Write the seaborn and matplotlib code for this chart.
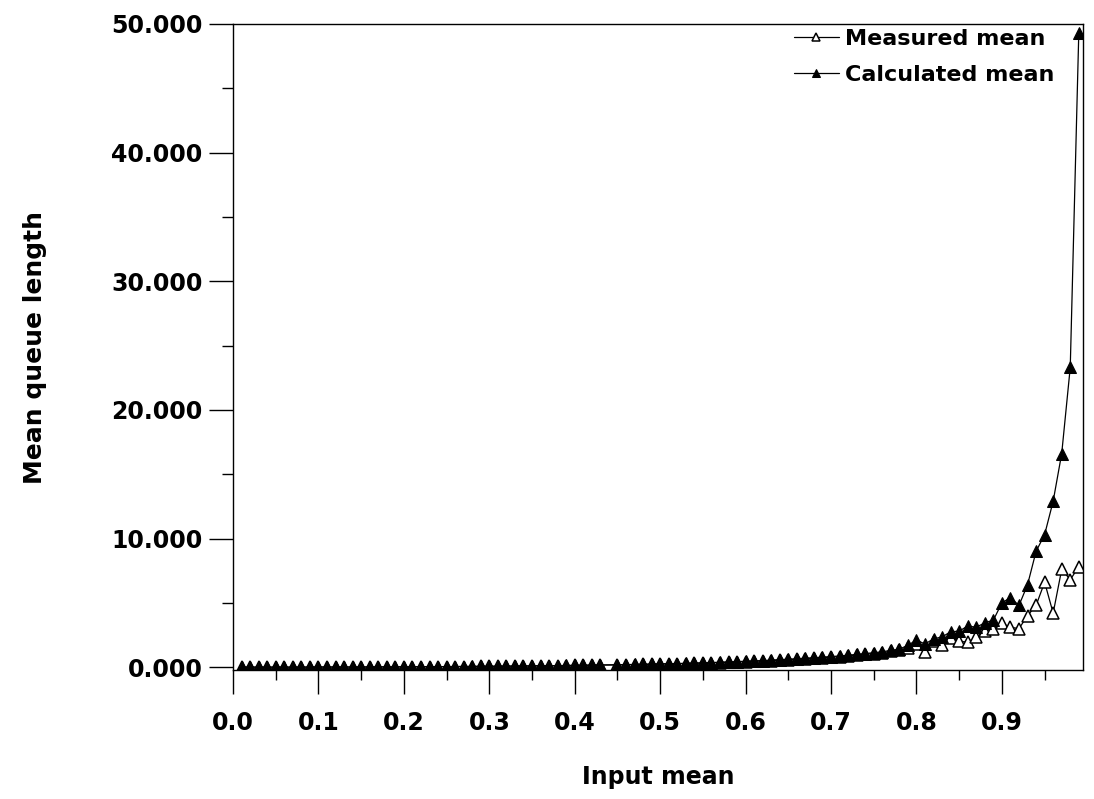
import numpy as np
import pandas as pd
import matplotlib
matplotlib.use('Agg')
import matplotlib.pyplot as plt
import seaborn as sns
from matplotlib.ticker import MultipleLocator, FormatStrFormatter

# input mean, steps of 0.01 (no point at 0.44)
input_mean = [0.01, 0.02, 0.03, 0.04, 0.05, 0.06, 0.07, 0.08, 0.09, 0.10,
              0.11, 0.12, 0.13, 0.14, 0.15, 0.16, 0.17, 0.18, 0.19, 0.20,
              0.21, 0.22, 0.23, 0.24, 0.25, 0.26, 0.27, 0.28, 0.29, 0.30,
              0.31, 0.32, 0.33, 0.34, 0.35, 0.36, 0.37, 0.38, 0.39, 0.40,
              0.41, 0.42, 0.43, 0.45, 0.46, 0.47, 0.48, 0.49, 0.50,
              0.51, 0.52, 0.53, 0.54, 0.55, 0.56, 0.57, 0.58, 0.59, 0.60,
              0.61, 0.62, 0.63, 0.64, 0.65, 0.66, 0.67, 0.68, 0.69, 0.70,
              0.71, 0.72, 0.73, 0.74, 0.75, 0.76, 0.77, 0.78, 0.79, 0.80,
              0.81, 0.82, 0.83, 0.84, 0.85, 0.86, 0.87, 0.88, 0.89, 0.90,
              0.91, 0.92, 0.93, 0.94, 0.95, 0.96, 0.97, 0.98, 0.99]

calculated = [0.00, 0.00, 0.00, 0.00, 0.00, 0.00, 0.00, 0.00, 0.01, 0.01,
              0.01, 0.01, 0.01, 0.01, 0.01, 0.02, 0.02, 0.02, 0.02, 0.03,
              0.03, 0.03, 0.03, 0.04, 0.04, 0.05, 0.05, 0.06, 0.06, 0.07,
              0.07, 0.08, 0.09, 0.09, 0.10, 0.11, 0.11, 0.12, 0.13, 0.14,
              0.15, 0.16, 0.17, 0.19, 0.20, 0.21, 0.23, 0.24, 0.26,
              0.27, 0.28, 0.30, 0.32, 0.34, 0.36, 0.38, 0.41, 0.43, 0.46,
              0.49, 0.51, 0.55, 0.58, 0.62, 0.65, 0.70, 0.73, 0.78, 0.82,
              0.87, 0.93, 0.99, 1.06, 1.12, 1.20, 1.30, 1.40, 1.70, 2.10,
              1.80, 2.20, 2.35, 2.75, 2.80, 3.20, 3.10, 3.45, 3.65, 5.00,
              5.40, 4.80, 6.40, 9.00, 10.30, 12.90, 16.60, 23.30, 49.30]

measured = [0.00, 0.00, 0.00, 0.00, 0.00, 0.00, 0.00, 0.00, 0.00, 0.01,
            0.01, 0.01, 0.01, 0.01, 0.01, 0.01, 0.02, 0.02, 0.02, 0.02,
            0.03, 0.03, 0.03, 0.04, 0.04, 0.04, 0.05, 0.05, 0.06, 0.06,
            0.07, 0.07, 0.08, 0.09, 0.09, 0.10, 0.10, 0.11, 0.12, 0.13,
            0.14, 0.15, 0.16, 0.17, 0.18, 0.20, 0.21, 0.22, 0.24,
            0.25, 0.27, 0.28, 0.30, 0.31, 0.33, 0.36, 0.38, 0.40, 0.43,
            0.45, 0.48, 0.51, 0.55, 0.58, 0.61, 0.65, 0.69, 0.73, 0.77,
            0.82, 0.88, 0.93, 1.00, 1.06, 1.13, 1.22, 1.32, 1.50, 1.80,
            1.20, 2.00, 1.70, 2.30, 2.00, 1.95, 2.35, 2.80, 3.00, 3.40,
            3.10, 3.00, 4.00, 4.80, 6.60, 4.20, 7.60, 6.80, 7.80]

df = pd.DataFrame({'Input mean': input_mean,
                   'Calculated mean': calculated,
                   'Measured mean': measured})

sns.set_style('white')
plt.rcParams['font.family'] = ['DejaVu Sans']
plt.rcParams['font.weight'] = 'bold'
plt.rcParams['text.color'] = 'black'
plt.rcParams['axes.labelcolor'] = 'black'
plt.rcParams['xtick.color'] = 'black'
plt.rcParams['ytick.color'] = 'black'

fig = plt.figure(figsize=(10.94, 7.99), dpi=100)
ax = fig.add_axes([0.213, 0.161, 0.777, 0.809])

# measured first so the filled triangles sit on top
sns.lineplot(data=df, x='Input mean', y='Measured mean', ax=ax, color='black',
             linewidth=0.9, marker='^', markersize=8.5, markerfacecolor='white',
             markeredgecolor='black', markeredgewidth=1.1,
             label='Measured mean', errorbar=None)
sns.lineplot(data=df, x='Input mean', y='Calculated mean', ax=ax, color='black',
             linewidth=0.9, marker='^', markersize=8.5, markerfacecolor='black',
             markeredgecolor='black', label='Calculated mean', errorbar=None)

ax.set_xlim(0.0, 0.995)
ax.set_ylim(-0.25, 50)

ax.xaxis.set_major_locator(MultipleLocator(0.1))
ax.xaxis.set_minor_locator(MultipleLocator(0.05))
ax.yaxis.set_major_locator(MultipleLocator(10))
ax.yaxis.set_minor_locator(MultipleLocator(5))
ax.xaxis.set_major_formatter(FormatStrFormatter('%.1f'))
ax.yaxis.set_major_formatter(FormatStrFormatter('%.3f'))

ax.tick_params(axis='x', which='major', direction='out', length=17, width=1,
               labelsize=17, pad=12, bottom=True)
ax.tick_params(axis='x', which='minor', direction='out', length=7, width=1,
               bottom=True)
ax.tick_params(axis='y', which='major', direction='out', length=17, width=1,
               labelsize=17, pad=5, left=True)
ax.tick_params(axis='y', which='minor', direction='out', length=8, width=1,
               left=True)
for lab in ax.get_xticklabels() + ax.get_yticklabels():
    lab.set_fontweight('bold')

for sp in ax.spines.values():
    sp.set_visible(True)
    sp.set_color('black')
    sp.set_linewidth(1.0)

ax.set_xlabel('Input mean', fontsize=17, fontweight='bold', labelpad=22)
ax.set_ylabel('Mean queue length', fontsize=18, fontweight='bold', labelpad=46)

leg = ax.legend(loc='upper right', frameon=False, markerscale=0.75,
                handlelength=2.0, handletextpad=0.3, labelspacing=0.75,
                borderaxespad=0.3, bbox_to_anchor=(0.985, 1.017),
                prop={'weight': 'bold', 'size': 16})

fig.savefig('out.png', dpi=100)
